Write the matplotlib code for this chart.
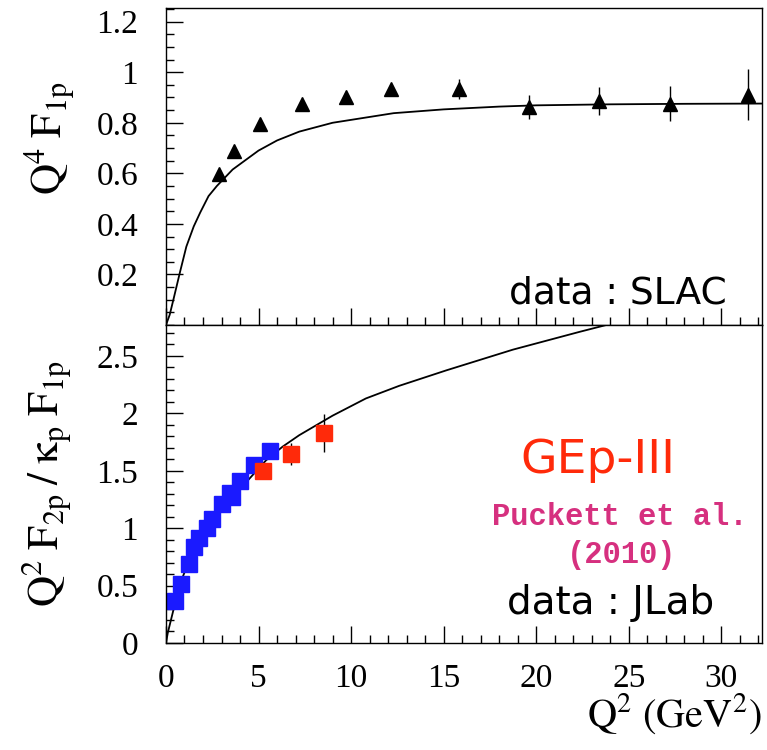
import numpy as np
import matplotlib
matplotlib.use("Agg")
import matplotlib.pyplot as plt
from matplotlib.ticker import MultipleLocator

plt.rcParams['font.family'] = ['Liberation Serif', 'DejaVu Serif']
plt.rcParams['mathtext.fontset'] = 'stix'

# SLAC data (top panel)
slac_q2 = [2.88, 3.69, 5.07, 7.36, 9.75, 12.14, 15.83, 19.59, 23.42, 27.24, 31.43]
slac_val = [0.596, 0.688, 0.797, 0.876, 0.902, 0.934, 0.934, 0.863, 0.885, 0.876, 0.911]
slac_err = [0.01, 0.01, 0.015, 0.01, 0.01, 0.015, 0.04, 0.047, 0.056, 0.068, 0.10]

# theory curve (top panel)
top_curve_q2 = [0, 0.2, 0.4, 0.76, 1.1, 1.5, 1.85, 2.3, 2.75, 3.6, 5.0, 6.0, 7.2,
                9.0, 12.3, 15, 18, 20, 24, 28, 32.2]
top_curve_val = [0, 0.04, 0.10, 0.21, 0.31, 0.39, 0.445, 0.51, 0.55, 0.615, 0.69, 0.73,
                 0.765, 0.80, 0.838, 0.853, 0.864, 0.869, 0.873, 0.875, 0.876]

# JLab data (bottom panel)
jlab_q2 = [0.49, 0.81, 1.24, 1.53, 1.80, 2.19, 2.50, 3.00, 3.45, 3.55, 3.99, 4.77, 5.61]
jlab_val = [0.366, 0.517, 0.69, 0.836, 0.918, 1.005, 1.083, 1.214, 1.31, 1.27, 1.41, 1.548, 1.672]
jlab_err = [0.01, 0.01, 0.01, 0.01, 0.01, 0.01, 0.01, 0.01, 0.01, 0.06, 0.02, 0.03, 0.07]

# GEp-III data
gep_q2 = [5.22, 6.75, 8.54]
gep_val = [1.50, 1.65, 1.83]
gep_err = [0.04, 0.096, 0.167]

# theory curve (bottom panel)
bot_curve_q2 = [0, 0.1, 0.36, 0.72, 1.26, 1.8, 2.7, 3.6, 4.5, 5.4, 6.3, 7.2, 9.0,
                10.8, 12.6, 15.15, 18.74, 22.34, 25, 28]
bot_curve_val = [0, 0.09, 0.26, 0.50, 0.72, 0.88, 1.10, 1.27, 1.43, 1.59, 1.71, 1.81,
                 1.98, 2.13, 2.24, 2.375, 2.555, 2.71, 2.82, 2.95]

fig = plt.figure(figsize=(7.67, 7.5), dpi=100)
ax1 = fig.add_axes([0.2164, 0.5667, 0.7771, 0.4226])
ax2 = fig.add_axes([0.2164, 0.1427, 0.7771, 0.4240])

for ax in (ax1, ax2):
    ax.set_xlim(0, 32.2)
    ax.xaxis.set_major_locator(MultipleLocator(5))
    ax.xaxis.set_minor_locator(MultipleLocator(1))
    ax.tick_params(which='both', direction='in', top=False, right=False,
                   labelsize=24, width=1)
    ax.tick_params(which='major', length=12)
    ax.tick_params(which='minor', length=6)
    ax.tick_params(axis='y', which='major', pad=20)
    ax.tick_params(axis='x', which='major', pad=15)
    for s in ax.spines.values():
        s.set_linewidth(1)

# top panel
ax1.plot(top_curve_q2, top_curve_val, color='black', lw=1.3)
ax1.errorbar(slac_q2, slac_val, yerr=slac_err, fmt='^', color='black',
             ms=10, elinewidth=1, capsize=0)
ax1.set_ylim(0, 1.254)
ax1.yaxis.set_minor_locator(MultipleLocator(0.05))
ax1.set_yticks([0.2, 0.4, 0.6, 0.8, 1.0, 1.2])
ax1.set_yticklabels(['0.2', '0.4', '0.6', '0.8', '1', '1.2'])
ax1.tick_params(labelbottom=False)
ax1.set_ylabel(r'$\mathrm{Q^4\;F_{1p}}$', fontsize=31)
ax1.yaxis.set_label_coords(-0.15, 0.59)
ax1.text(0.94, 0.10, 'data : SLAC', transform=ax1.transAxes, ha='right',
         va='center', fontsize=27, family='DejaVu Sans')

# bottom panel
ax2.plot(bot_curve_q2, bot_curve_val, color='black', lw=1.3)
ax2.errorbar(jlab_q2, jlab_val, yerr=jlab_err, fmt='s', color='#1a1aff',
             ecolor='black', ms=11, elinewidth=1, capsize=0)
ax2.errorbar(gep_q2, gep_val, yerr=gep_err, fmt='s', color='#ff2a0a',
             ecolor='black', ms=11, elinewidth=1, capsize=0)
ax2.set_ylim(0, 2.77)
ax2.yaxis.set_minor_locator(MultipleLocator(0.1))
ax2.set_yticks([0, 0.5, 1, 1.5, 2, 2.5])
ax2.set_yticklabels(['0', '0.5', '1', '1.5', '2', '2.5'])
ax2.set_xticks([0, 5, 10, 15, 20, 25, 30])
ax2.set_xticklabels(['0', '5', '10', '15', '20', '25', '30'])
ax2.set_ylabel(r'$\mathrm{Q^2\;F_{2p}\;/\;\kappa_p\;F_{1p}}$', fontsize=31)
ax2.yaxis.set_label_coords(-0.155, 0.5)
ax2.set_xlabel(r'$\mathrm{Q^2\ (GeV^2)}$', fontsize=29, loc='right', labelpad=-2)

ax2.text(0.725, 0.575, 'GEp-III', transform=ax2.transAxes, ha='center',
         va='center', fontsize=34, color='#ff2a0a', family='DejaVu Sans')
ax2.text(0.762, 0.396, 'Puckett et al.', transform=ax2.transAxes, ha='center',
         va='center', fontsize=22, color='#d6307f', family='Liberation Mono',
         fontweight='bold')
ax2.text(0.765, 0.276, '(2010)', transform=ax2.transAxes, ha='center',
         va='center', fontsize=22, color='#d6307f', family='Liberation Mono',
         fontweight='bold')
ax2.text(0.92, 0.125, 'data : JLab', transform=ax2.transAxes, ha='right',
         va='center', fontsize=28, family='DejaVu Sans')

fig.savefig('out.png', dpi=100)
